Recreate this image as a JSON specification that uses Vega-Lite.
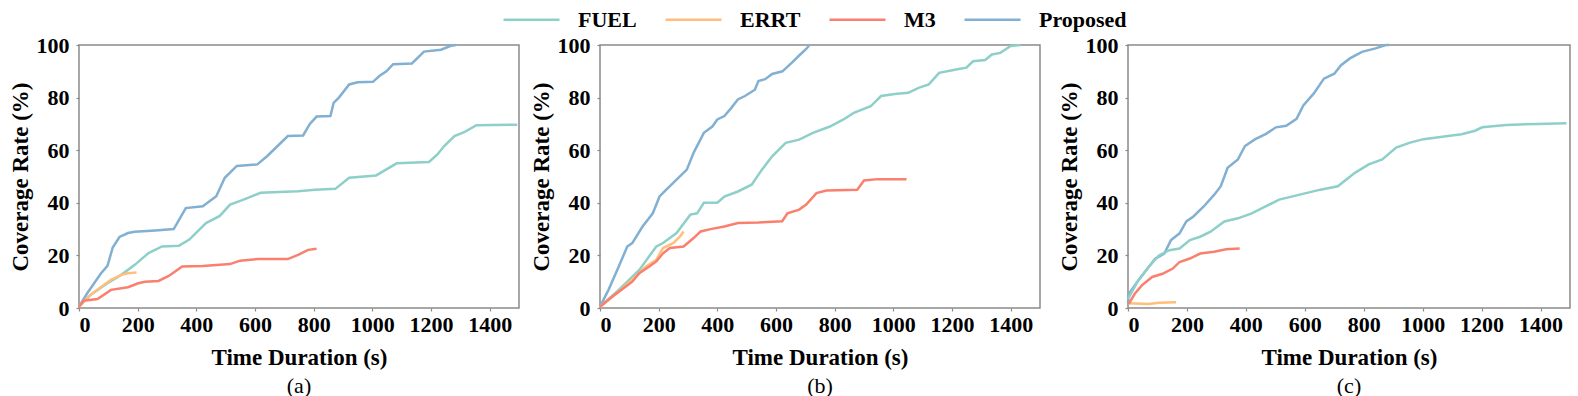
{
  "$schema": "https://vega.github.io/schema/vega-lite/v6.json",
  "padding": {"left": 8, "top": -10, "right": 4, "bottom": 0},
  "background": "white",
  "config": {
    "font": "Liberation Serif",
    "view": {"stroke": "#8a8a8a", "strokeWidth": 1.5},
    "axis": {
      "labelFont": "Liberation Serif", "labelFontSize": 22, "labelFontWeight": "bold", "labelColor": "black",
      "titleFont": "Liberation Serif", "titleFontSize": 23, "titleFontWeight": "bold", "titleColor": "black",
      "grid": false, "domain": false, "tickSize": 3, "tickColor": "#8a8a8a", "tickWidth": 1.2, "format": "d"
    },
    "axisX": {"labelPadding": 3, "titlePadding": 11},
    "axisY": {"labelPadding": 7, "titlePadding": 4},
    "title": {"font": "Liberation Serif", "fontSize": 22, "fontWeight": "normal", "color": "black", "orient": "bottom", "anchor": "middle", "offset": 7},
    "line": {"strokeWidth": 2.5}
  },
  "datasets": {
    "a": [
      {"m": "Proposed", "t": 0, "v": 0.5}, {"m": "Proposed", "t": 28, "v": 5.6}, {"m": "Proposed", "t": 74, "v": 13}, {"m": "Proposed", "t": 97, "v": 16}, {"m": "Proposed", "t": 115, "v": 23}, {"m": "Proposed", "t": 138, "v": 27}, {"m": "Proposed", "t": 167, "v": 28.5}, {"m": "Proposed", "t": 190, "v": 29}, {"m": "Proposed", "t": 260, "v": 29.5}, {"m": "Proposed", "t": 323, "v": 30}, {"m": "Proposed", "t": 341, "v": 33.5}, {"m": "Proposed", "t": 364, "v": 38}, {"m": "Proposed", "t": 422, "v": 38.7}, {"m": "Proposed", "t": 468, "v": 42.5}, {"m": "Proposed", "t": 497, "v": 49.5}, {"m": "Proposed", "t": 538, "v": 54}, {"m": "Proposed", "t": 608, "v": 54.6}, {"m": "Proposed", "t": 642, "v": 57.8}, {"m": "Proposed", "t": 677, "v": 61.6}, {"m": "Proposed", "t": 712, "v": 65.4}, {"m": "Proposed", "t": 764, "v": 65.6}, {"m": "Proposed", "t": 787, "v": 70}, {"m": "Proposed", "t": 810, "v": 72.8}, {"m": "Proposed", "t": 857, "v": 73}, {"m": "Proposed", "t": 868, "v": 78}, {"m": "Proposed", "t": 886, "v": 80}, {"m": "Proposed", "t": 921, "v": 85}, {"m": "Proposed", "t": 950, "v": 85.8}, {"m": "Proposed", "t": 1002, "v": 86}, {"m": "Proposed", "t": 1025, "v": 88.3}, {"m": "Proposed", "t": 1048, "v": 90}, {"m": "Proposed", "t": 1071, "v": 92.7}, {"m": "Proposed", "t": 1135, "v": 93}, {"m": "Proposed", "t": 1176, "v": 97.5}, {"m": "Proposed", "t": 1234, "v": 98.2}, {"m": "Proposed", "t": 1268, "v": 99.7}, {"m": "Proposed", "t": 1286, "v": 100},
      {"m": "FUEL", "t": 0, "v": 0.5}, {"m": "FUEL", "t": 39, "v": 5}, {"m": "FUEL", "t": 97, "v": 9.4}, {"m": "FUEL", "t": 144, "v": 12.6}, {"m": "FUEL", "t": 190, "v": 16.4}, {"m": "FUEL", "t": 237, "v": 20.9}, {"m": "FUEL", "t": 283, "v": 23.4}, {"m": "FUEL", "t": 341, "v": 23.7}, {"m": "FUEL", "t": 376, "v": 26}, {"m": "FUEL", "t": 433, "v": 32.3}, {"m": "FUEL", "t": 480, "v": 35}, {"m": "FUEL", "t": 515, "v": 39.3}, {"m": "FUEL", "t": 561, "v": 41.2}, {"m": "FUEL", "t": 619, "v": 43.8}, {"m": "FUEL", "t": 747, "v": 44.4}, {"m": "FUEL", "t": 805, "v": 45}, {"m": "FUEL", "t": 874, "v": 45.3}, {"m": "FUEL", "t": 921, "v": 49.5}, {"m": "FUEL", "t": 1013, "v": 50.4}, {"m": "FUEL", "t": 1083, "v": 55}, {"m": "FUEL", "t": 1193, "v": 55.5}, {"m": "FUEL", "t": 1222, "v": 58.4}, {"m": "FUEL", "t": 1245, "v": 61.6}, {"m": "FUEL", "t": 1280, "v": 65.4}, {"m": "FUEL", "t": 1315, "v": 67}, {"m": "FUEL", "t": 1355, "v": 69.5}, {"m": "FUEL", "t": 1494, "v": 69.7},
      {"m": "ERRT", "t": 0, "v": 0.5}, {"m": "ERRT", "t": 39, "v": 5}, {"m": "ERRT", "t": 74, "v": 7.9}, {"m": "ERRT", "t": 109, "v": 10.7}, {"m": "ERRT", "t": 144, "v": 12.6}, {"m": "ERRT", "t": 167, "v": 13.2}, {"m": "ERRT", "t": 196, "v": 13.5},
      {"m": "M3", "t": 0, "v": 0.5}, {"m": "M3", "t": 16, "v": 2.8}, {"m": "M3", "t": 63, "v": 3.4}, {"m": "M3", "t": 109, "v": 6.9}, {"m": "M3", "t": 167, "v": 7.9}, {"m": "M3", "t": 202, "v": 9.4}, {"m": "M3", "t": 225, "v": 10}, {"m": "M3", "t": 271, "v": 10.3}, {"m": "M3", "t": 306, "v": 12.2}, {"m": "M3", "t": 352, "v": 15.8}, {"m": "M3", "t": 422, "v": 16}, {"m": "M3", "t": 515, "v": 16.7}, {"m": "M3", "t": 549, "v": 18}, {"m": "M3", "t": 608, "v": 18.6}, {"m": "M3", "t": 712, "v": 18.6}, {"m": "M3", "t": 747, "v": 20.2}, {"m": "M3", "t": 781, "v": 22.1}, {"m": "M3", "t": 810, "v": 22.5}
    ],
    "b": [
      {"m": "Proposed", "t": 0, "v": 0.5}, {"m": "Proposed", "t": 29, "v": 6.9}, {"m": "Proposed", "t": 64, "v": 15.8}, {"m": "Proposed", "t": 93, "v": 23.4}, {"m": "Proposed", "t": 110, "v": 24.7}, {"m": "Proposed", "t": 145, "v": 31}, {"m": "Proposed", "t": 180, "v": 36}, {"m": "Proposed", "t": 203, "v": 42.4}, {"m": "Proposed", "t": 226, "v": 45}, {"m": "Proposed", "t": 261, "v": 48.8}, {"m": "Proposed", "t": 296, "v": 52.6}, {"m": "Proposed", "t": 319, "v": 59}, {"m": "Proposed", "t": 354, "v": 66.6}, {"m": "Proposed", "t": 383, "v": 69}, {"m": "Proposed", "t": 400, "v": 71.7}, {"m": "Proposed", "t": 424, "v": 73}, {"m": "Proposed", "t": 447, "v": 76}, {"m": "Proposed", "t": 470, "v": 79.3}, {"m": "Proposed", "t": 494, "v": 80.6}, {"m": "Proposed", "t": 528, "v": 83}, {"m": "Proposed", "t": 540, "v": 86.3}, {"m": "Proposed", "t": 563, "v": 87}, {"m": "Proposed", "t": 587, "v": 89}, {"m": "Proposed", "t": 622, "v": 90}, {"m": "Proposed", "t": 656, "v": 93.5}, {"m": "Proposed", "t": 679, "v": 96}, {"m": "Proposed", "t": 703, "v": 98.5}, {"m": "Proposed", "t": 714, "v": 100},
      {"m": "FUEL", "t": 0, "v": 0.5}, {"m": "FUEL", "t": 64, "v": 6.9}, {"m": "FUEL", "t": 134, "v": 14.5}, {"m": "FUEL", "t": 192, "v": 23.4}, {"m": "FUEL", "t": 215, "v": 24.7}, {"m": "FUEL", "t": 261, "v": 28.5}, {"m": "FUEL", "t": 308, "v": 35.5}, {"m": "FUEL", "t": 331, "v": 36}, {"m": "FUEL", "t": 354, "v": 40}, {"m": "FUEL", "t": 400, "v": 40}, {"m": "FUEL", "t": 424, "v": 42.4}, {"m": "FUEL", "t": 470, "v": 44.3}, {"m": "FUEL", "t": 517, "v": 46.9}, {"m": "FUEL", "t": 552, "v": 52.6}, {"m": "FUEL", "t": 587, "v": 57.7}, {"m": "FUEL", "t": 633, "v": 62.8}, {"m": "FUEL", "t": 679, "v": 64}, {"m": "FUEL", "t": 726, "v": 66.6}, {"m": "FUEL", "t": 784, "v": 69}, {"m": "FUEL", "t": 830, "v": 71.7}, {"m": "FUEL", "t": 865, "v": 74.2}, {"m": "FUEL", "t": 923, "v": 76.7}, {"m": "FUEL", "t": 958, "v": 80.6}, {"m": "FUEL", "t": 1005, "v": 81.4}, {"m": "FUEL", "t": 1051, "v": 81.8}, {"m": "FUEL", "t": 1086, "v": 83.7}, {"m": "FUEL", "t": 1121, "v": 85}, {"m": "FUEL", "t": 1156, "v": 89.4}, {"m": "FUEL", "t": 1214, "v": 90.7}, {"m": "FUEL", "t": 1249, "v": 91.4}, {"m": "FUEL", "t": 1272, "v": 93.8}, {"m": "FUEL", "t": 1313, "v": 94.3}, {"m": "FUEL", "t": 1336, "v": 96.4}, {"m": "FUEL", "t": 1365, "v": 97}, {"m": "FUEL", "t": 1400, "v": 99.6}, {"m": "FUEL", "t": 1434, "v": 100},
      {"m": "ERRT", "t": 0, "v": 0.5}, {"m": "ERRT", "t": 64, "v": 6.2}, {"m": "ERRT", "t": 122, "v": 12}, {"m": "ERRT", "t": 157, "v": 15.8}, {"m": "ERRT", "t": 192, "v": 18.3}, {"m": "ERRT", "t": 215, "v": 22.8}, {"m": "ERRT", "t": 250, "v": 24.7}, {"m": "ERRT", "t": 273, "v": 27.2}, {"m": "ERRT", "t": 285, "v": 29.1},
      {"m": "M3", "t": 0, "v": 0.5}, {"m": "M3", "t": 41, "v": 4.3}, {"m": "M3", "t": 87, "v": 8.1}, {"m": "M3", "t": 110, "v": 10}, {"m": "M3", "t": 134, "v": 13.2}, {"m": "M3", "t": 168, "v": 15.8}, {"m": "M3", "t": 192, "v": 17.7}, {"m": "M3", "t": 215, "v": 20.8}, {"m": "M3", "t": 238, "v": 22.8}, {"m": "M3", "t": 285, "v": 23.4}, {"m": "M3", "t": 319, "v": 26.6}, {"m": "M3", "t": 343, "v": 29.1}, {"m": "M3", "t": 377, "v": 30}, {"m": "M3", "t": 424, "v": 31}, {"m": "M3", "t": 470, "v": 32.3}, {"m": "M3", "t": 540, "v": 32.5}, {"m": "M3", "t": 621, "v": 33}, {"m": "M3", "t": 639, "v": 36}, {"m": "M3", "t": 679, "v": 37.4}, {"m": "M3", "t": 703, "v": 39.3}, {"m": "M3", "t": 738, "v": 43.7}, {"m": "M3", "t": 772, "v": 44.7}, {"m": "M3", "t": 877, "v": 45}, {"m": "M3", "t": 900, "v": 48.5}, {"m": "M3", "t": 946, "v": 49}, {"m": "M3", "t": 1045, "v": 49}
    ],
    "c": [
      {"m": "Proposed", "t": 0, "v": 2}, {"m": "Proposed", "t": 3, "v": 5.4}, {"m": "Proposed", "t": 35, "v": 10.5}, {"m": "Proposed", "t": 70, "v": 15.6}, {"m": "Proposed", "t": 93, "v": 18.8}, {"m": "Proposed", "t": 123, "v": 20.7}, {"m": "Proposed", "t": 146, "v": 25.8}, {"m": "Proposed", "t": 175, "v": 28.4}, {"m": "Proposed", "t": 198, "v": 32.9}, {"m": "Proposed", "t": 222, "v": 34.8}, {"m": "Proposed", "t": 257, "v": 38.6}, {"m": "Proposed", "t": 292, "v": 43}, {"m": "Proposed", "t": 315, "v": 46.3}, {"m": "Proposed", "t": 338, "v": 53.3}, {"m": "Proposed", "t": 373, "v": 56.5}, {"m": "Proposed", "t": 397, "v": 61.6}, {"m": "Proposed", "t": 432, "v": 64.2}, {"m": "Proposed", "t": 467, "v": 66.1}, {"m": "Proposed", "t": 502, "v": 68.7}, {"m": "Proposed", "t": 537, "v": 69.3}, {"m": "Proposed", "t": 572, "v": 71.9}, {"m": "Proposed", "t": 595, "v": 77}, {"m": "Proposed", "t": 630, "v": 81.5}, {"m": "Proposed", "t": 665, "v": 87.2}, {"m": "Proposed", "t": 700, "v": 89.1}, {"m": "Proposed", "t": 723, "v": 92.3}, {"m": "Proposed", "t": 753, "v": 94.9}, {"m": "Proposed", "t": 794, "v": 97.4}, {"m": "Proposed", "t": 840, "v": 98.7}, {"m": "Proposed", "t": 875, "v": 100}, {"m": "Proposed", "t": 887, "v": 100},
      {"m": "FUEL", "t": 0, "v": 3.5}, {"m": "FUEL", "t": 35, "v": 10.5}, {"m": "FUEL", "t": 70, "v": 15.6}, {"m": "FUEL", "t": 105, "v": 20}, {"m": "FUEL", "t": 140, "v": 22}, {"m": "FUEL", "t": 175, "v": 22.6}, {"m": "FUEL", "t": 210, "v": 25.8}, {"m": "FUEL", "t": 245, "v": 27.1}, {"m": "FUEL", "t": 280, "v": 29}, {"m": "FUEL", "t": 327, "v": 32.9}, {"m": "FUEL", "t": 373, "v": 34.1}, {"m": "FUEL", "t": 420, "v": 36}, {"m": "FUEL", "t": 467, "v": 38.6}, {"m": "FUEL", "t": 513, "v": 41.2}, {"m": "FUEL", "t": 583, "v": 43.1}, {"m": "FUEL", "t": 653, "v": 45}, {"m": "FUEL", "t": 712, "v": 46.3}, {"m": "FUEL", "t": 770, "v": 51.4}, {"m": "FUEL", "t": 817, "v": 54.6}, {"m": "FUEL", "t": 863, "v": 56.5}, {"m": "FUEL", "t": 910, "v": 61}, {"m": "FUEL", "t": 957, "v": 62.9}, {"m": "FUEL", "t": 1003, "v": 64.2}, {"m": "FUEL", "t": 1073, "v": 65.2}, {"m": "FUEL", "t": 1132, "v": 66.1}, {"m": "FUEL", "t": 1178, "v": 67.4}, {"m": "FUEL", "t": 1202, "v": 68.7}, {"m": "FUEL", "t": 1283, "v": 69.6}, {"m": "FUEL", "t": 1388, "v": 70}, {"m": "FUEL", "t": 1488, "v": 70.2},
      {"m": "ERRT", "t": 0, "v": 1.8}, {"m": "ERRT", "t": 70, "v": 1.5}, {"m": "ERRT", "t": 105, "v": 2}, {"m": "ERRT", "t": 163, "v": 2.2},
      {"m": "M3", "t": 2, "v": 1.5}, {"m": "M3", "t": 23, "v": 5.4}, {"m": "M3", "t": 47, "v": 8.6}, {"m": "M3", "t": 82, "v": 11.8}, {"m": "M3", "t": 117, "v": 13}, {"m": "M3", "t": 152, "v": 15}, {"m": "M3", "t": 175, "v": 17.5}, {"m": "M3", "t": 210, "v": 18.8}, {"m": "M3", "t": 245, "v": 20.7}, {"m": "M3", "t": 292, "v": 21.4}, {"m": "M3", "t": 333, "v": 22.3}, {"m": "M3", "t": 379, "v": 22.6}
    ]
  },
  "spacing": 16,
  "hconcat": [
    {
      "spacing": 6,
      "hconcat": [
        {
          "width": 440, "height": 263,
          "title": "(a)",
          "data": {"name": "a"},
          "mark": {"type": "line"},
          "encoding": {
            "x": {"field": "t", "type": "quantitative", "scale": {"domain": [0, 1500], "nice": false}, "axis": {"values": [0, 200, 400, 600, 800, 1000, 1200, 1400], "title": "Time Duration (s)"}},
            "y": {"field": "v", "type": "quantitative", "scale": {"domain": [0, 100], "nice": false}, "axis": {"values": [0, 20, 40, 60, 80, 100], "title": "Coverage Rate (%)"}},
            "color": {"field": "m", "type": "nominal", "scale": {"domain": ["FUEL", "ERRT", "M3", "Proposed"], "range": ["#8ECFC9", "#FFBE7A", "#FA7F6F", "#82B0D2"]},
              "legend": {"orient": "none", "legendX": 423, "legendY": -55, "direction": "horizontal", "title": null, "symbolType": "stroke", "symbolSize": 3136, "symbolStrokeWidth": 4, "labelFont": "Liberation Serif", "labelFontSize": 22, "labelFontWeight": "bold", "labelColor": "black", "labelOffset": 17, "columnPadding": 23}}
          }
        },
        {
          "width": 440, "height": 263,
          "title": "(b)",
          "data": {"name": "b"},
          "mark": {"type": "line"},
          "encoding": {
            "x": {"field": "t", "type": "quantitative", "scale": {"domain": [0, 1500], "nice": false}, "axis": {"values": [0, 200, 400, 600, 800, 1000, 1200, 1400], "title": "Time Duration (s)"}},
            "y": {"field": "v", "type": "quantitative", "scale": {"domain": [0, 100], "nice": false}, "axis": {"values": [0, 20, 40, 60, 80, 100], "title": "Coverage Rate (%)"}},
            "color": {"field": "m", "type": "nominal"}
          }
        }
      ]
    },
    {
      "width": 442, "height": 263,
      "title": "(c)",
      "data": {"name": "c"},
      "mark": {"type": "line"},
      "encoding": {
        "x": {"field": "t", "type": "quantitative", "scale": {"domain": [0, 1500], "nice": false}, "axis": {"values": [0, 200, 400, 600, 800, 1000, 1200, 1400], "title": "Time Duration (s)"}},
        "y": {"field": "v", "type": "quantitative", "scale": {"domain": [0, 100], "nice": false}, "axis": {"values": [0, 20, 40, 60, 80, 100], "title": "Coverage Rate (%)"}},
        "color": {"field": "m", "type": "nominal"}
      }
    }
  ]
}
